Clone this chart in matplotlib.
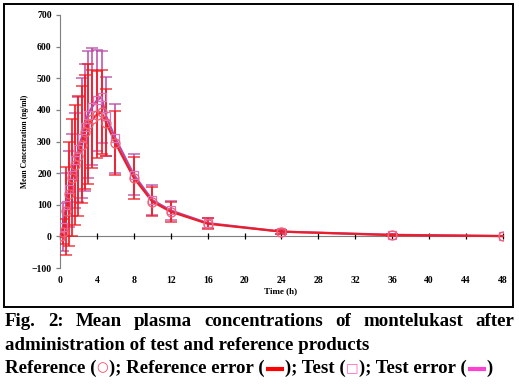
import matplotlib
matplotlib.use("Agg")
import matplotlib.pyplot as plt
from matplotlib.patches import Rectangle
from matplotlib.lines import Line2D
import numpy as np

# sampling times (h)
time = [0, 0.33, 0.67, 1, 1.33, 1.67, 2, 2.33, 2.67, 3, 3.5, 4, 4.5, 5, 6, 8, 10, 12, 16, 24, 36, 48]

# reference product: mean and SD (ng/ml)
ref_mean = [0, 15, 80, 135, 185, 225, 255, 290, 330, 355, 370, 385, 392, 360, 295, 185, 110, 78, 40, 15, 4, 1]
ref_sd = [3, 40, 140, 165, 185, 190, 190, 185, 180, 190, 155, 137, 133, 105, 100, 66, 45, 31, 17, 6, 3, 1]

# test product: mean and SD (ng/ml)
test_mean = [0, 30, 100, 150, 195, 240, 275, 310, 345, 385, 410, 430, 440, 380, 310, 195, 115, 82, 42, 15, 5, 1]
test_sd = [3, 75, 100, 120, 130, 150, 165, 190, 200, 200, 185, 160, 145, 125, 110, 65, 48, 30, 17, 6, 3, 1]

caption1 = "Fig. 2: Mean plasma concentrations of montelukast after"
caption2 = "administration of test and reference products"
# (text, colour); "bar" pieces are drawn as short thick lines
caption3 = [("Reference (", "black"), ("\u25cb", "#ff4060"), ("); Reference error (", "black"),
            ("bar", "#ff0000"), ("); Test (", "black"), ("\u25a1", "#ff60c0"),
            ("); Test error (", "black"), ("bar", "#ff40d0"), (")", "black")]

W, H = 519, 391
fig = plt.figure(figsize=(W / 100, H / 100), dpi=100)
serif = ["Liberation Serif", "DejaVu Serif"]

# frame round the chart
fig.add_artist(Rectangle((4 / W, 1 - 307 / H), 509 / W, 303 / H, transform=fig.transFigure,
                         fill=False, ec="black", lw=1.4))

ax = fig.add_axes([60 / W, 1 - 268 / H, 443 / W, 253 / H])

ax.errorbar(time, test_mean, yerr=test_sd, fmt="none", ecolor="#b84aa6", elinewidth=1.3,
            capsize=4, capthick=1.1, alpha=0.85, zorder=2)
ax.errorbar(time, ref_mean, yerr=ref_sd, fmt="none", ecolor="#ee1c25", elinewidth=1.5,
            capsize=4, capthick=1.1, alpha=0.85, zorder=3)
ax.plot(time, test_mean, "-", color="#b84aa6", lw=1.6, zorder=4)
ax.plot(time, ref_mean, "-", color="#ea1f2a", lw=1.6, zorder=5)
ax.plot(time, test_mean, "s", ms=5.5, mfc="none", mec="#e070b8", mew=0.9, zorder=6)
ax.plot(time, ref_mean, "o", ms=6.5, mfc="none", mec="#f06070", mew=0.9, zorder=6)

ax.set_xlim(0, 48)
ax.set_ylim(-100, 700)
ax.set_xticks(np.arange(0, 49, 4))
ax.set_yticks(np.arange(-100, 701, 100))

for s in ["top", "right"]:
    ax.spines[s].set_visible(False)
ax.spines["bottom"].set_position(("data", 0))
ax.spines["bottom"].set_color("#7f7f7f")
ax.spines["left"].set_color("#7f7f7f")
ax.spines["bottom"].set_zorder(1)
ax.tick_params(axis="x", direction="inout", length=5, width=0.9, color="black", pad=26)
ax.tick_params(axis="y", direction="out", length=3, width=0.9, color="#7f7f7f", pad=3)
for lab in ax.get_xticklabels() + ax.get_yticklabels():
    lab.set_family(serif)
    lab.set_fontweight("bold")
    lab.set_fontsize(7)

fig.text(25 / W, 1 - 141 / H, "Mean Concentration (ng/ml)", rotation=90, ha="center", va="center",
         family=serif, fontweight="bold", fontsize=5.5)
fig.text(281 / W, 1 - 291 / H, "Time (h)", ha="center", va="center",
         family=serif, fontweight="bold", fontsize=6.5)

# caption, measured with the renderer
fig.canvas.draw()
r = fig.canvas.get_renderer()


def width(s, size, fam=serif):
    t = fig.text(0, 0, s + "|", family=fam, fontweight="bold", fontsize=size)
    b = fig.text(0, 0, "|", family=fam, fontweight="bold", fontsize=size)
    w = t.get_window_extent(r).width - b.get_window_extent(r).width
    t.remove()
    b.remove()
    return w


fs = 10 * 366 / width(caption2, 10)

# line 1 is justified between x=5 and x=514
words = caption1.split()
ww = [width(w, fs) for w in words]
gap = (509 - sum(ww)) / (len(words) - 1)
x = 5
for w, wl in zip(words, ww):
    fig.text(x / W, 1 - 322 / H, w, family=serif, fontweight="bold", fontsize=fs, va="center")
    x += wl + gap

fig.text(5 / W, 1 - 345 / H, caption2, family=serif, fontweight="bold", fontsize=fs, va="center")

x = 5
y3 = 368
for s, c in caption3:
    if s == "bar":
        fig.add_artist(Line2D([(x + 1) / W, (x + 19) / W], [1 - (y3 + 1) / H] * 2,
                              transform=fig.transFigure, color=c, lw=3.0, solid_capstyle="butt"))
        x += 20
        continue
    fam = serif if c == "black" else ["DejaVu Sans"]
    size = fs if c == "black" else fs * 0.7
    fig.text(x / W, 1 - y3 / H, s, family=fam, fontweight="bold" if c == "black" else "normal",
             fontsize=size, color=c, va="center")
    x += width(s, size, fam) + (0 if c == "black" else 1)

fig.savefig("out.png", dpi=100)
